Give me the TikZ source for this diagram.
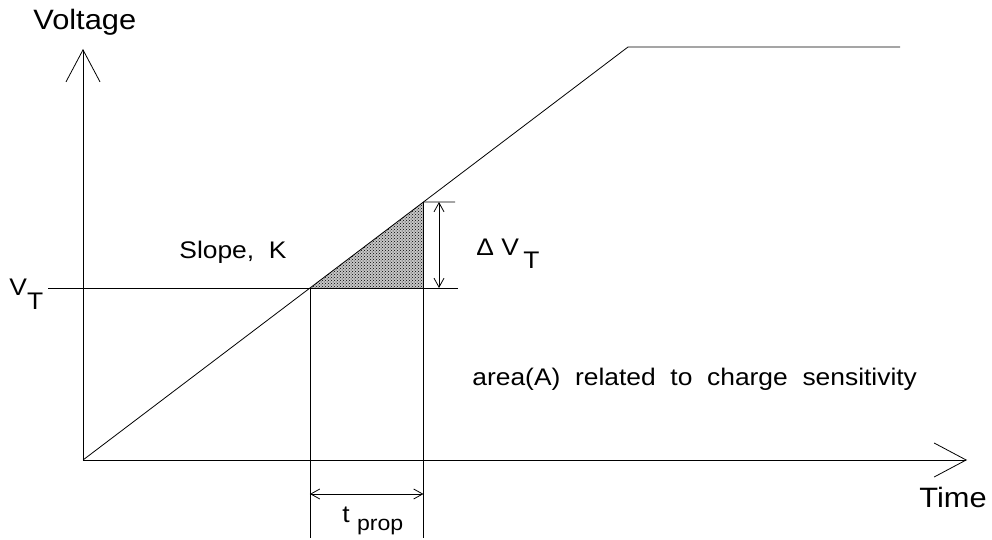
\documentclass[tikz,border=0pt]{standalone}
\usepackage{fontspec}
\setmainfont{Liberation Sans}
\usetikzlibrary{arrows.meta,patterns,calc}
\newcommand{\hstr}[1]{\scalebox{1.1}[1]{#1}}
\begin{document}
\begin{tikzpicture}[x=1pt,y=-1pt,line width=0.8pt,
  axisarrow/.style={-{Straight Barb[length=32pt,width=34pt]}},
  dimarrow/.style={{Straight Barb[length=9pt,width=10pt]}-{Straight Barb[length=9pt,width=10pt]}},
  lbl/.style={inner sep=0pt,anchor=base west,font=\fontsize{24}{26}\selectfont},
  biglbl/.style={inner sep=0pt,anchor=base west,font=\fontsize{28}{30}\selectfont}]
\useasboundingbox (0,0) rectangle (992,540);
% key points
\coordinate (O) at (83,460);
\coordinate (Ytip) at (83,49);
\coordinate (Xtip) at (967,460);
\coordinate (Knee) at (628,47);
\coordinate (FlatEnd) at (900,47);
\coordinate (VTstart) at (48,288);
\coordinate (VTend) at (458,288);
\coordinate (A) at ($(O)!172/413!(Knee)$);
\coordinate (B) at ($(O)!258/413!(Knee)$);
\coordinate (C) at (B |- A);
\coordinate (Abot) at (A |- 0,538);
\coordinate (Bbot) at (B |- 0,538);
\coordinate (Ttick) at (455,202);
\coordinate (DVtop) at (439,202);
\coordinate (DVbot) at (439,288);
\coordinate (TPl) at (A |- 0,494);
\coordinate (TPr) at (B |- 0,494);
% shaded area
\fill[black!22] (A) -- (B) -- (C) -- cycle;
\fill[pattern=crosshatch dots, pattern color=black] (A) -- (B) -- (C) -- cycle;
% axes
\draw[axisarrow] (O) -- (Ytip);
\draw[axisarrow] (O) -- (Xtip);
% ramp
\draw (O) -- (Knee) -- (FlatEnd);
% threshold line
\draw (VTstart) -- (VTend);
% verticals
\draw (A) -- (Abot);
\draw (B) -- (Bbot);
\draw (B) -- (Ttick);
% dimension arrows
\draw[dimarrow] (DVtop) -- (DVbot);
\draw[dimarrow] (TPl) -- (TPr);
% labels
\node[biglbl] (volt) at (33,30) {\hstr{Voltage}};
\node[biglbl] (time) at (919,507) {\hstr{Time}};
\node[lbl] (vt) at (9,295) {\hstr{V\raisebox{-14pt}{T}}};
\node[lbl] (slope) at (179,258) {\hstr{Slope,\ \ K}};
\node[lbl] (dvt) at (476,255) {\hstr{Δ\ V\,\raisebox{-13pt}{T}}};
\node[lbl] (area) at (472,385) {\hstr{area(A)\ \ related\ \ to\ \ charge\ \ sensitivity}};
\node[lbl] (tprop) at (342,522) {\hstr{t\ \raisebox{-8pt}{\fontsize{21}{23}\selectfont prop}}};
\end{tikzpicture}
\end{document}
